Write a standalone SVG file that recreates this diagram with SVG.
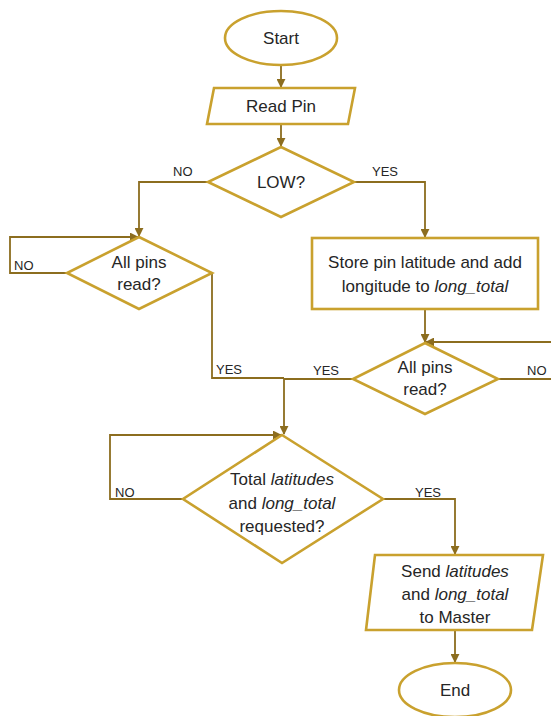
<svg xmlns="http://www.w3.org/2000/svg" width="551" height="716" viewBox="0 0 551 716">
  <style>
    .shape { fill: #ffffff; stroke: #C9A12E; stroke-width: 2.6; }
    .conn { fill: none; stroke: #8C6D1F; stroke-width: 1.8; }
    .t { font-family: "Liberation Sans", Arial, sans-serif; font-size: 17px; fill: #262626; text-anchor: middle; }
    .lbl { font-family: "Liberation Sans", Arial, sans-serif; font-size: 13px; fill: #262626; }
    .i { font-style: italic; }
  </style>
  <defs>
    <marker id="arrow" viewBox="0 0 10 10" refX="9" refY="5" markerWidth="5" markerHeight="5" orient="auto">
      <path d="M0,0 L10,5 L0,10 z" fill="#8C6D1F"/>
    </marker>
  </defs>
  <rect width="551" height="716" fill="#ffffff"/>

  <g id="connectors">
    <path class="conn" d="M281,65 V87" marker-end="url(#arrow)"/>
    <path class="conn" d="M281,124 V146" marker-end="url(#arrow)"/>
    <!-- LOW? NO branch -->
    <path class="conn" d="M208,182 H139 V236" marker-end="url(#arrow)"/>
    <!-- left All pins NO loop -->
    <path class="conn" d="M67,273 H10 V237 H138" marker-end="url(#arrow)"/>
    <!-- left All pins YES -->
    <path class="conn" d="M212,273 V378 H284"/>
    <!-- LOW? YES branch -->
    <path class="conn" d="M354,182 H425 V237" marker-end="url(#arrow)"/>
    <path class="conn" d="M425,309 V342" marker-end="url(#arrow)"/>
    <!-- right All pins NO loop (runs past the edge) -->
    <path class="conn" d="M498,379 H560"/>
    <path class="conn" d="M560,342 H426" marker-end="url(#arrow)"/>
    <!-- right All pins YES -->
    <path class="conn" d="M353,379 H284 V434" marker-end="url(#arrow)"/>
    <!-- Total NO loop -->
    <path class="conn" d="M183,499 H110 V435 H281" marker-end="url(#arrow)"/>
    <!-- Total YES -->
    <path class="conn" d="M383,499 H455 V554" marker-end="url(#arrow)"/>
    <path class="conn" d="M455,630 V662" marker-end="url(#arrow)"/>
  </g>

  <g id="labels">
    <text class="lbl" x="173" y="176">NO</text>
    <text class="lbl" x="372" y="176">YES</text>
    <text class="lbl" x="14" y="270">NO</text>
    <text class="lbl" x="216" y="374">YES</text>
    <text class="lbl" x="313" y="375">YES</text>
    <text class="lbl" x="527" y="375">NO</text>
    <text class="lbl" x="115" y="497">NO</text>
    <text class="lbl" x="415" y="497">YES</text>
  </g>

  <g id="start">
    <ellipse class="shape" cx="281" cy="38" rx="56" ry="27"/>
    <text class="t" x="281" y="44">Start</text>
  </g>

  <g id="read-pin">
    <polygon class="shape" points="214,88 355,88 348,124 207,124"/>
    <text class="t" x="281" y="112">Read Pin</text>
  </g>

  <g id="low">
    <polygon class="shape" points="281,147 354,182 281,217 208,182"/>
    <text class="t" x="281" y="188">LOW?</text>
  </g>

  <g id="all-pins-left">
    <polygon class="shape" points="139,237 212,273 139,309 67,273"/>
    <text class="t" x="139" y="268">All pins</text>
    <text class="t" x="139" y="290">read?</text>
  </g>

  <g id="store">
    <rect class="shape" x="312" y="238" width="226" height="71"/>
    <text class="t" x="425" y="268">Store pin latitude and add</text>
    <text class="t" x="425" y="292">longitude to <tspan class="i">long_total</tspan></text>
  </g>

  <g id="all-pins-right">
    <polygon class="shape" points="425,343 498,379 425,414 353,379"/>
    <text class="t" x="425" y="373">All pins</text>
    <text class="t" x="425" y="395">read?</text>
  </g>

  <g id="total">
    <polygon class="shape" points="282,435 383,499 282,563 183,499"/>
    <text class="t" x="282" y="485">Total <tspan class="i">latitudes</tspan></text>
    <text class="t" x="282" y="509">and <tspan class="i">long_total</tspan></text>
    <text class="t" x="282" y="532">requested?</text>
  </g>

  <g id="send">
    <polygon class="shape" points="375,555 543,555 532,630 366,630"/>
    <text class="t" x="455" y="577">Send <tspan class="i">latitudes</tspan></text>
    <text class="t" x="455" y="600">and <tspan class="i">long_total</tspan></text>
    <text class="t" x="455" y="623">to Master</text>
  </g>

  <g id="end">
    <ellipse class="shape" cx="455" cy="690" rx="56" ry="27"/>
    <text class="t" x="455" y="696">End</text>
  </g>
</svg>
